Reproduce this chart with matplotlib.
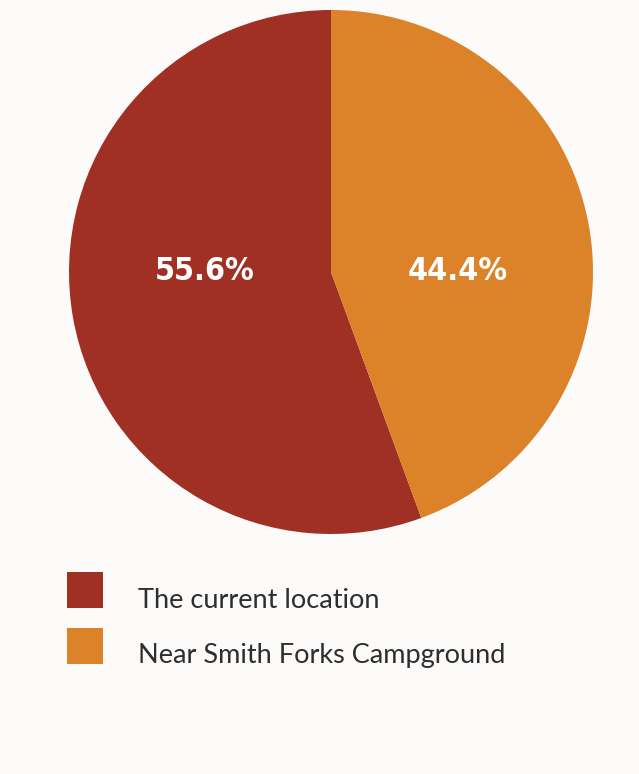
import matplotlib.pyplot as plt
from matplotlib.patches import Rectangle

# ------------------ DATA ------------------
labels = ['The current location', 'Near Smith Forks Campground']
shares = [55.6, 44.4]
colors = ['#a03023', '#dc8229']

W, H = 639, 774
fig = plt.figure(figsize=(W / 100, H / 100), dpi=100)
fig.patch.set_facecolor('#fcfbfa')

# pie axes: centre (331, 272) px, radius 262 px
cx, cy, r = 331, 272, 262
ax = fig.add_axes([(cx - r) / W, 1 - (cy + r) / H, 2 * r / W, 2 * r / H])
wedges, _, autotexts = ax.pie(shares, colors=colors, startangle=90, counterclock=True,
                              autopct='%.1f%%', pctdistance=0.49, radius=1,
                              wedgeprops=dict(linewidth=0))
# labels sit on the horizontal centre line
for t in autotexts:
    x, y = t.get_position()
    t.set_position((x, 0.0))
    t.set_color('white')
    t.set_fontsize(23)
    t.set_fontweight('bold')
    t.set_family('DejaVu Sans')
    t.set_stretch('condensed')
ax.set_xlim(-1, 1)
ax.set_ylim(-1, 1)
ax.set_aspect('equal')
ax.axis('off')

# ------------------ LEGEND ------------------
box_y = [572, 628]
for lab, col, y in zip(labels, colors, box_y):
    fig.patches.append(Rectangle((67 / W, 1 - (y + 36) / H), 36 / W, 36 / H,
                                 transform=fig.transFigure, facecolor=col, edgecolor='none'))
    fig.text(138 / W, 1 - (y + 28) / H, lab, ha='left', va='center',
             fontsize=19.5, color='#2e2e2e', family='Lato')

fig.savefig('out.png', dpi=100, facecolor=fig.get_facecolor())
